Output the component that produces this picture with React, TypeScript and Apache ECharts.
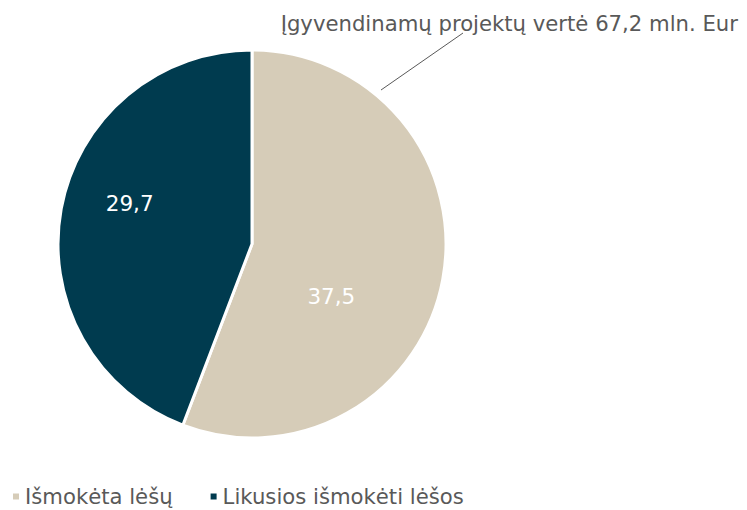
import React, { useEffect, useRef } from "react";
import * as echarts from "echarts";

const categories = ["Išmokėta lėšų", "Likusios išmokėti lėšos"];
const values = [37.5, 29.7];
const colors = ["#D6CCB8", "#003B4F"];
const titleText = "Įgyvendinamų projektų vertė 67,2 mln. Eur";
const FONT = "DejaVu Sans";

export default function App() {
  const ref = useRef<HTMLDivElement>(null);
  useEffect(() => {
    if (!ref.current) return;
    const chart = echarts.init(ref.current, undefined, { renderer: "svg" });
    const labelShift = [
      { dx: -19, dy: 34 },
      { dx: -24, dy: -22 },
    ];
    chart.setOption({
      animation: false,
      title: {
        text: titleText,
        right: 4,
        top: 8,
        textStyle: { fontFamily: FONT, fontSize: 21.2, fontWeight: "normal", color: "#595959" },
      },
      legend: {
        left: 6,
        bottom: -2,
        icon: "rect",
        itemWidth: 8,
        itemHeight: 8,
        itemGap: 36,
        textStyle: { fontFamily: FONT, fontSize: 21.2, color: "#595959" },
        data: categories,
      },
      graphic: [
        {
          type: "line",
          shape: { x1: 381, y1: 90, x2: 463, y2: 33 },
          style: { stroke: "#595959", lineWidth: 1 },
        },
      ],
      series: [
        {
          type: "pie",
          center: [252, 244],
          radius: [0, 194],
          startAngle: 90,
          clockwise: true,
          itemStyle: { borderColor: "#ffffff", borderWidth: 3 },
          label: {
            show: true,
            position: "inside",
            formatter: (p: any) => String(p.value).replace(".", ","),
            color: "#ffffff",
            fontFamily: FONT,
            fontSize: 21.5,
          },
          labelLayout: (p: any) => labelShift[p.dataIndex],
          emphasis: { disabled: true },
          data: categories.map((c, i) => ({
            name: c,
            value: values[i],
            itemStyle: { color: colors[i] },
          })),
        },
      ],
    });
    return () => chart.dispose();
  }, []);
  return (
    <div
      ref={ref}
      style={{ position: "fixed", left: 0, top: 0, width: 747, height: 510, background: "#fff" }}
    />
  );
}
